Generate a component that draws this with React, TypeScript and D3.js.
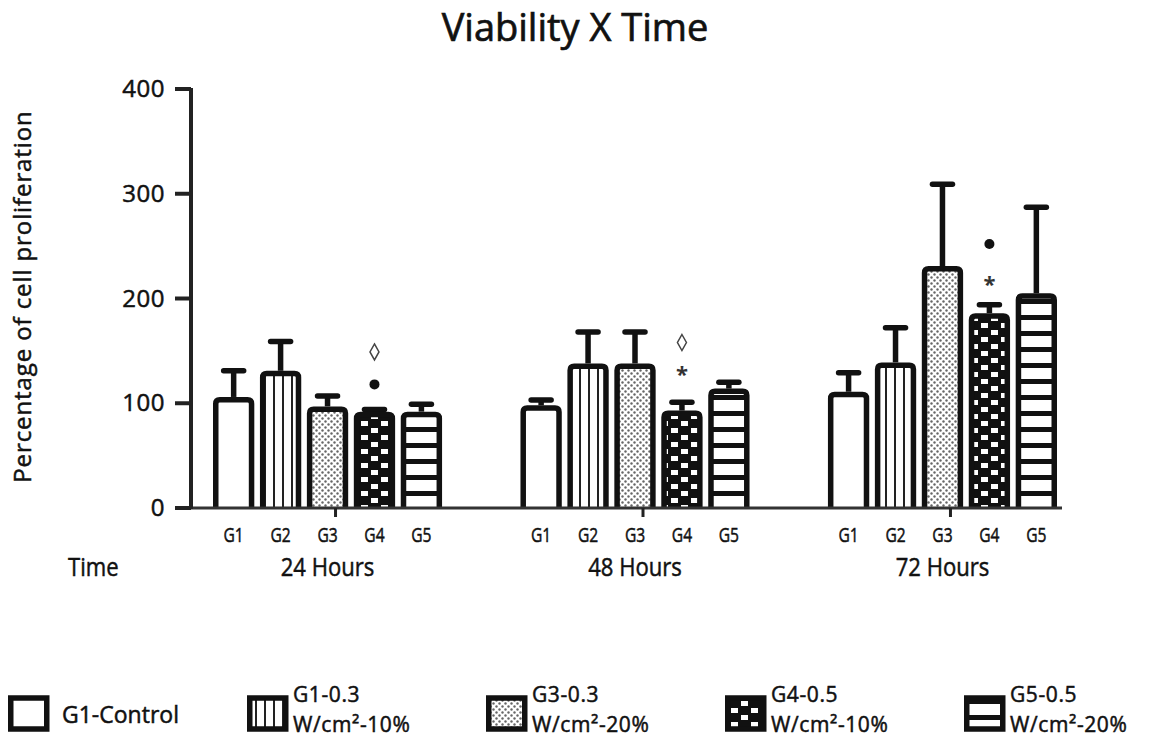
import React from "react";
import * as d3 from "d3";

const groups = ["24 Hours", "48 Hours", "72 Hours"];
const series = ["G1", "G2", "G3", "G4", "G5"];
const means24 = [106, 131, 97, 92, 92];
const err24 = [25, 28, 10, 2, 7];
const means48 = [98, 138, 138, 93, 114];
const err48 = [5, 30, 30, 8, 6];
const means72 = [111, 139, 231, 186, 205];
const err72 = [18, 33, 78, 8, 82];
const yTicks = [0, 100, 200, 300, 400];
const legendLines = [
  ["G1-Control"],
  ["G1-0.3", "W/cm²-10%"],
  ["G3-0.3", "W/cm²-20%"],
  ["G4-0.5", "W/cm²-10%"],
  ["G5-0.5", "W/cm²-20%"],
];
// significance markers: group index, series index, symbol, y value (data units)
const markers = [
  { g: 0, s: 3, sym: "diamond", v: 149 },
  { g: 0, s: 3, sym: "dot", v: 118 },
  { g: 1, s: 3, sym: "diamond", v: 158 },
  { g: 1, s: 3, sym: "star", v: 130 },
  { g: 2, s: 3, sym: "dot", v: 252 },
  { g: 2, s: 3, sym: "star", v: 216 },
];

const means = [means24, means48, means72];
const errs = [err24, err48, err72];

const W = 1162;
const H = 739;
const fills = ["#ffffff", "url(#pVert)", "url(#pDots)", "url(#pCheck)", "url(#pHoriz)"];
const font = "'Open Sans', 'Noto Sans', sans-serif";
const heavy = { stroke: "#111", strokeWidth: 0.5, paintOrder: "stroke" } as any;

function barPath(x: number, y: number, w: number, h: number, r: number) {
  const p = d3.path();
  p.moveTo(x, y + h);
  p.lineTo(x, y + r);
  p.quadraticCurveTo(x, y, x + r, y);
  p.lineTo(x + w - r, y);
  p.quadraticCurveTo(x + w, y, x + w, y + r);
  p.lineTo(x + w, y + h);
  return p.toString();
}

export default function App() {
  const y = d3.scaleLinear().domain([0, 400]).range([508, 89]);
  const xG = d3.scaleBand().domain(groups).range([213, 1057]).paddingInner(0.255);
  const xS = d3.scaleBand().domain(series).range([0, xG.bandwidth()]).paddingInner(0.12);
  const legX = d3.scaleLinear().domain([0, 4]).range([8, 964]);
  const sw = 5.5;

  return (
    <svg width={W} height={H} style={{ position: "absolute", left: 0, top: 0, background: "#fff" }}>
      <defs>
        <pattern id="pVert" width="9" height="10" patternUnits="userSpaceOnUse">
          <rect width="9" height="10" fill="#fff" />
          <rect x="3" width="2" height="10" fill="#222" />
        </pattern>
        <pattern id="pDots" width="6" height="6" patternUnits="userSpaceOnUse">
          <rect width="6" height="6" fill="#fff" />
          <circle cx="1.5" cy="1.5" r="1.2" fill="#666" />
          <circle cx="4.5" cy="4.5" r="1.2" fill="#666" />
        </pattern>
        <pattern id="pCheck" width="20" height="14" patternUnits="userSpaceOnUse">
          <rect width="20" height="14" fill="#111" />
          <rect x="1" y="1" width="7" height="5" fill="#fff" />
          <rect x="11" y="8" width="7" height="5" fill="#fff" />
        </pattern>
        <pattern id="pHoriz" width="10" height="16" patternUnits="userSpaceOnUse">
          <rect width="10" height="16" fill="#fff" />
          <rect y="11" width="10" height="5" fill="#111" />
        </pattern>
      </defs>

      {/* title */}
      <text x={575} y={41} textAnchor="middle" fontFamily={font} fontSize={38} fill="#111" {...heavy} strokeWidth={0.7}>
        Viability X Time
      </text>

      {/* y label */}
      <text
        transform={`translate(31,${y(200) - 2}) rotate(-90)`}
        textAnchor="middle"
        fontFamily={font}
        fontSize={24}
        letterSpacing={0.9}
        fill="#111"
        {...heavy}
      >
        Percentage of cell proliferation
      </text>

      {/* bars */}
      {groups.map((g, gi) =>
        series.map((s, si) => {
          const x0 = (xG(g) as number) + (xS(s) as number);
          const bw = xS.bandwidth();
          const top = y(means[gi][si]);
          const errTop = y(means[gi][si] + errs[gi][si]);
          const cx = x0 + bw / 2;
          return (
            <g key={g + s}>
              {errs[gi][si] > 0 && (
                <>
                  <line x1={cx} x2={cx} y1={top} y2={errTop} stroke="#111" strokeWidth={sw} />
                  <line x1={cx - 10} x2={cx + 10} y1={errTop} y2={errTop} stroke="#111" strokeWidth={5.5} strokeLinecap="round" />
                </>
              )}
              <path
                d={barPath(x0 + sw / 2, top + sw / 2, bw - sw, y(0) - top - sw / 2, 4) + "Z"}
                fill={fills[si]}
                stroke="none"
              />
              <path
                d={barPath(x0 + sw / 2, top + sw / 2, bw - sw, y(0) - top - sw / 2, 4)}
                fill="none"
                stroke="#111"
                strokeWidth={sw}
              />
              <text
                transform={`translate(${cx},542) scale(0.78,1)`}
                textAnchor="middle"
                fontFamily={font}
                fontSize={20}
                fill="#111"
                {...heavy}
              >
                {s}
              </text>
            </g>
          );
        })
      )}

      {/* markers */}
      {markers.map((m, i) => {
        const cx = (xG(groups[m.g]) as number) + (xS(series[m.s]) as number) + xS.bandwidth() / 2;
        const cy = y(m.v);
        if (m.sym === "dot") return <circle key={i} cx={cx} cy={cy} r={5} fill="#111" />;
        if (m.sym === "diamond")
          return (
            <path
              key={i}
              d={`M${cx},${cy - 8}L${cx + 4.5},${cy}L${cx},${cy + 8}L${cx - 4.5},${cy}Z`}
              fill="none"
              stroke="#444"
              strokeWidth={1.5}
            />
          );
        return (
          <text key={i} x={cx} y={cy + 10} textAnchor="middle" fontFamily={font} fontWeight={700} fontSize={22} fill="#333">
            *
          </text>
        );
      })}

      {/* axes */}
      <line x1={190} x2={1062} y1={y(0)} y2={y(0)} stroke="#333" strokeWidth={3} />
      {groups.map((g) => {
        const cx = (xG(g) as number) + xG.bandwidth() / 2 + 8;
        return <line key={g} x1={cx} x2={cx} y1={y(0)} y2={y(0) + 9} stroke="#222" strokeWidth={3} />;
      })}
      <line x1={191} x2={191} y1={y(400) - 1} y2={y(0) + 1} stroke="#222" strokeWidth={4} />
      {yTicks.map((t) => (
        <g key={t}>
          <line x1={175} x2={191} y1={y(t)} y2={y(t)} stroke="#222" strokeWidth={4} />
          <text x={165} y={y(t) + 8} textAnchor="end" fontFamily={font} fontSize={24} letterSpacing={0.5} fill="#111" {...heavy}>
            {t}
          </text>
        </g>
      ))}

      {/* group labels */}
      <text transform="translate(68,576) scale(0.85,1)" fontFamily={font} fontSize={26} fill="#111" {...heavy}>
        Time
      </text>
      {groups.map((g) => (
        <text
          key={g}
          transform={`translate(${(xG(g) as number) + xG.bandwidth() / 2},576) scale(0.85,1)`}
          textAnchor="middle"
          fontFamily={font}
          fontSize={26}
          fill="#111"
          {...heavy}
        >
          {g}
        </text>
      ))}

      {/* legend */}
      {legendLines.map((lines, i) => {
        const lx = legX(i);
        return (
          <g key={i}>
            <rect x={lx + 2.75} y={698} width={36} height={31} fill={fills[i]} stroke="#111" strokeWidth={5.5} />
            {lines.length === 1 ? (
              <text x={lx + 54} y={723} fontFamily={font} fontSize={23} fill="#111" {...heavy}>
                {lines[0]}
              </text>
            ) : (
              <text x={lx + 46} y={702} fontFamily={font} fontSize={21} letterSpacing={0.6} fill="#111" {...heavy}>
                {lines.map((l, li) => (
                  <tspan key={li} x={lx + 46} dy={li === 0 ? 0 : 29.5}>
                    {l}
                  </tspan>
                ))}
              </text>
            )}
          </g>
        );
      })}
    </svg>
  );
}
